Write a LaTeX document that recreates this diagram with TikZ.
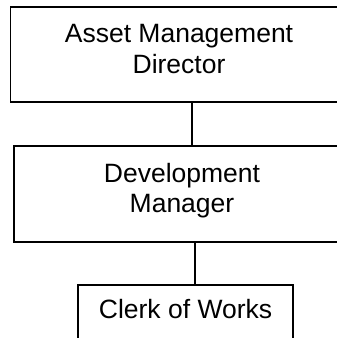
\documentclass[tikz,border=0pt]{standalone}
\usepackage{fontspec}
\setmainfont{Liberation Sans}
\begin{document}
\begin{tikzpicture}[x=1pt,y=-1pt,
  post/.style={draw=black, line width=1.9pt, rectangle, inner sep=0pt},
  caption/.style={font=\fontsize{26.5}{30.4}\selectfont, align=center,
    inner sep=0pt, anchor=base, text=black},
  link/.style={draw=black, line width=1.9pt}]
\useasboundingbox (0,0) rectangle (337,338);
\clip (0,0) rectangle (337,338);

% boxes of the chart
\node[post, minimum width=337pt, minimum height=95pt] (director) at (179,54.5) {};
\node[post, minimum width=336pt, minimum height=95.7pt] (manager) at (182,193.85) {};
\node[post, minimum width=215pt, minimum height=70pt] (clerk) at (185.8,320.3) {};

% titles
\node[caption] (directorT) at (179,73.3) {Asset Management\\Director};
\node[caption] (managerT) at (182,212.7) {Development\\Manager};
\node[caption] (clerkT) at (185.5,318.3) {Clerk of Works};

% reporting lines
\coordinate (c1) at (192.3,0);
\coordinate (c2) at (194.7,0);
\draw[link] (director.south -| c1) -- (manager.north -| c1);
\draw[link] (manager.south -| c2) -- (clerk.north -| c2);
\end{tikzpicture}
\end{document}
